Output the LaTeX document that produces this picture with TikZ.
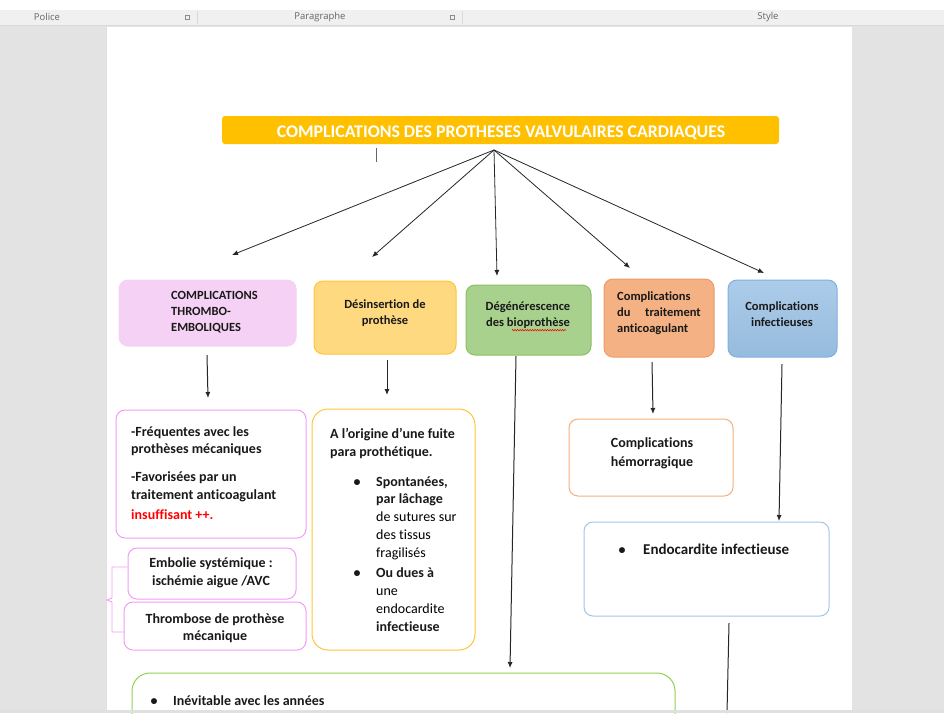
\documentclass[tikz,border=0pt]{standalone}
\usepackage{fontspec}
\setmainfont{Carlito}[Ligatures=NoCommon]
\newfontfamily\uifont{Open Sans}
\usetikzlibrary{arrows.meta,decorations.pathmorphing}
\definecolor{tbar}{HTML}{F0F0F0}
\definecolor{bgray}{HTML}{E3E3E3}
\definecolor{titleor}{HTML}{FFC000}
\definecolor{pinkfill}{HTML}{F5D2F5}
\definecolor{pinkline}{HTML}{F49CF4}
\definecolor{yelfill}{HTML}{FFD97F}
\definecolor{yelline}{HTML}{FFC43A}
\definecolor{grnfill}{HTML}{A9D18E}
\definecolor{grnline}{HTML}{8CC063}
\definecolor{salfill}{HTML}{F4B183}
\definecolor{salline}{HTML}{F09A6A}
\definecolor{blufill}{HTML}{9DC3E6}
\definecolor{bluline}{HTML}{84AEDF}
\definecolor{brdgrn}{HTML}{92D050}
\definecolor{brdsal}{HTML}{F5AE80}
\definecolor{brdblu}{HTML}{A4C6EA}
\definecolor{txtred}{HTML}{FF0000}
\tikzset{
  box/.style={rounded corners=9pt, line width=1pt, inner sep=0pt},
  hd/.style={inner sep=0pt, font=\fontsize{12.5}{14}\selectfont\bfseries, text=black!90},
  txt/.style={inner sep=0pt, font=\fontsize{14}{16}\selectfont\bfseries, text=black!90},
  txtr/.style={inner sep=0pt, font=\fontsize{14}{16}\selectfont, text=black},
  arr/.style={-{Latex[length=6pt,width=5pt]}, line width=0.8pt, draw=black!85},
  tool/.style={inner sep=0pt, font=\uifont\fontsize{9.5}{11}\selectfont, text=black!60}
}
\begin{document}
\begin{tikzpicture}[x=1pt,y=-1pt]
\useasboundingbox (0,0) rectangle (944,713);
% window chrome
\fill[white] (0,0) rectangle (944,10);
\fill[tbar] (0,10) rectangle (944,25);
\fill[bgray] (0,25) rectangle (944,713);
\draw[black!15] (0,25.5) -- (944,25.5);
\fill[white] (107,27) rectangle (852,713);
\draw[black!12] (106.5,27) -- (106.5,713);
\node[tool] (tp) at (47,17) {Police};
\node[tool] (tpa) at (320,17) {Paragraphe};
\node[tool] (tst) at (768,17) {Style};
\node[draw=black!45, line width=0.4pt, minimum size=4pt, inner sep=0pt] (ic1) at (187,17) {};
\node[draw=black!45, line width=0.4pt, minimum size=4pt, inner sep=0pt] (ic2) at (452,17) {};
\draw[black!15] (197,11) -- (197,24);
\draw[black!15] (462,11) -- (462,24);

% title
\node[box, rounded corners=3pt, fill=titleor, draw=none, minimum width=557pt, minimum height=28pt] (title) at (500.5,130) {};
\node[inner sep=0pt, text=white, font=\fontsize{17.8}{20}\selectfont\bfseries, anchor=base] (titletxt) at (501,137) {COMPLICATIONS DES PROTHESES VALVULAIRES CARDIAQUES};
\draw[black!60, line width=0.8pt] (376,148) -- (376,162);

% first row boxes
\node[box, fill=pinkfill, draw=pinkfill, minimum width=177pt, minimum height=66pt] (b1) at (207.5,313) {};
\node[box, fill=yelfill, draw=yelline, minimum width=142pt, minimum height=73pt] (b2) at (385,317.5) {};
\node[box, fill=grnfill, draw=grnline, minimum width=125pt, minimum height=70pt] (b3) at (528.5,320) {};
\node[box, fill=salfill, draw=salline, minimum width=110pt, minimum height=78pt] (b4) at (659,318) {};
\node[box, top color=blufill!85!white, bottom color=blufill!96!black, draw=bluline, minimum width=109pt, minimum height=77pt] (b5) at (782.5,318.5) {};

\node[hd, anchor=base west] (t11) at (171,299) {COMPLICATIONS};
\node[hd, anchor=base west] (t12) at (171,315) {THROMBO-};
\node[hd, anchor=base west] (t13) at (171,331) {EMBOLIQUES};
\node[hd, anchor=base] (t21) at (385,308) {Désinsertion de};
\node[hd, anchor=base] (t22) at (385,324) {prothèse};
\node[hd, anchor=base] (t31) at (528,310) {Dégénérescence};
\node[hd, anchor=base] (t32) at (528,326) {des bioprothèse};
\draw[red, line width=0.5pt, decorate, decoration={zigzag, amplitude=0.8pt, segment length=2.5pt}] (t32.south) ++(-16,2) -- ++(54,0);
\node[hd, anchor=base west] (t41) at (617,300) {Complications};
\node[hd, anchor=base west] (t42) at (617,316) {du};
\node[hd, anchor=base east] (t42b) at (701,316) {traitement};
\node[hd, anchor=base west] (t43) at (617,332) {anticoagulant};
\node[hd, anchor=base] (t51) at (782,310) {Complications};
\node[hd, anchor=base] (t52) at (782,326) {infectieuses};

% arrows from title
\coordinate (hub) at (494,150);
\coordinate (e1) at (232,255);
\coordinate (e2) at (372,257);
\coordinate (e3) at (497,276);
\coordinate (e4) at (630,268);
\coordinate (e5) at (764,273);
\foreach \i in {1,...,5} \draw[arr] (hub) -- (e\i);

% second row boxes
\node[box, fill=white, draw=pinkline, minimum width=190pt, minimum height=128pt] (c1) at (211,474) {};
\node[box, fill=white, draw=pinkline, minimum width=168pt, minimum height=51pt] (c1a) at (212,573.5) {};
\node[box, fill=white, draw=pinkline, minimum width=182pt, minimum height=48pt] (c1b) at (215,626) {};
\node[box, fill=white, draw=yelline, rounded corners=16pt, minimum width=163pt, minimum height=241pt] (c2) at (393.5,529.5) {};
\node[box, fill=white, draw=brdsal, minimum width=164pt, minimum height=77pt] (c4) at (651,457.5) {};
\node[box, fill=white, draw=brdblu, minimum width=245pt, minimum height=94pt] (c5) at (706.5,569) {};
\node[box, fill=white, draw=brdgrn, rounded corners=18pt, minimum width=543pt, minimum height=80pt] (c3) at (403.5,713) {};

% brace
\draw[pinkline, line width=0.9pt] (c1a.west |- 0,567) -- (112,567) -- (112,598) -- (107,600) -- (112,602) -- (112,632) -- (c1b.west |- 0,632);

% second row texts
\node[txt, anchor=base west] (u1) at (131,436) {-Fréquentes avec les};
\node[txt, anchor=base west] (u2) at (131,453) {prothèses mécaniques};
\node[txt, anchor=base west] (u3) at (131,481) {-Favorisées par un};
\node[txt, anchor=base west] (u4) at (131,499) {traitement anticoagulant};
\node[txt, anchor=base west, text=txtred] (u5) at (131,519) {insuffisant ++.};
\node[txt, anchor=base] (u6) at (211,567) {Embolie systémique :};
\node[txt, anchor=base] (u7) at (211,585) {ischémie aigue /AVC};
\node[txt, anchor=base] (u8) at (215,623) {Thrombose de prothèse};
\node[txt, anchor=base] (u9) at (215,640) {mécanique};

\node[txt, anchor=base west] (v1) at (330,438) {A l'origine d'une fuite};
\node[txt, anchor=base west] (v2) at (330,456) {para prothétique.};
\node[txt, anchor=base] (vb1) at (357,486) {•};
\node[txt, anchor=base west] (v3) at (376,486) {Spontanées,};
\node[txt, anchor=base west] (v4) at (376,503) {par lâchage};
\node[txtr, anchor=base west] (v5) at (376,521) {de sutures sur};
\node[txtr, anchor=base west] (v6) at (376,539) {des tissus};
\node[txtr, anchor=base west] (v7) at (376,557) {fragilisés};
\node[txt, anchor=base] (vb2) at (357,577) {•};
\node[txt, anchor=base west] (v8) at (376,577) {Ou dues à};
\node[txtr, anchor=base west] (v9) at (376,595) {une};
\node[txtr, anchor=base west] (v10) at (376,613) {endocardite};
\node[txt, anchor=base west] (v11) at (376,631) {infectieuse};

\node[txt, anchor=base] (w1) at (652,447) {Complications};
\node[txt, anchor=base] (w2) at (652,466) {hémorragique};
\node[txt, anchor=base] (xb) at (622,554) {•};
\node[txt, font=\fontsize{15}{17}\selectfont\bfseries, anchor=base west] (x1) at (643,554) {Endocardite infectieuse};
\node[txt, anchor=base] (yb) at (154,705) {•};
\node[txt, anchor=base west] (y1) at (173,705) {Inévitable avec les années};

% down arrows
\coordinate (d1s) at (207,355); \coordinate (d1e) at (208,398);
\coordinate (d2s) at (387,360); \coordinate (d2e) at (387,395);
\coordinate (d3s) at (516,356); \coordinate (d3e) at (510,668);
\coordinate (d4s) at (652,362); \coordinate (d4e) at (653,414);
\coordinate (d5s) at (782,364); \coordinate (d5e) at (779,521);
\foreach \i in {1,...,5} \draw[arr, line width=1pt] (d\i s) -- (d\i e);
\coordinate (f1s) at (729,623); \coordinate (f1e) at (727,713);
\draw[black!85, line width=1pt] (f1s) -- (f1e);
\fill[black!12] (0,710) rectangle (944,713);
\end{tikzpicture}
\end{document}
